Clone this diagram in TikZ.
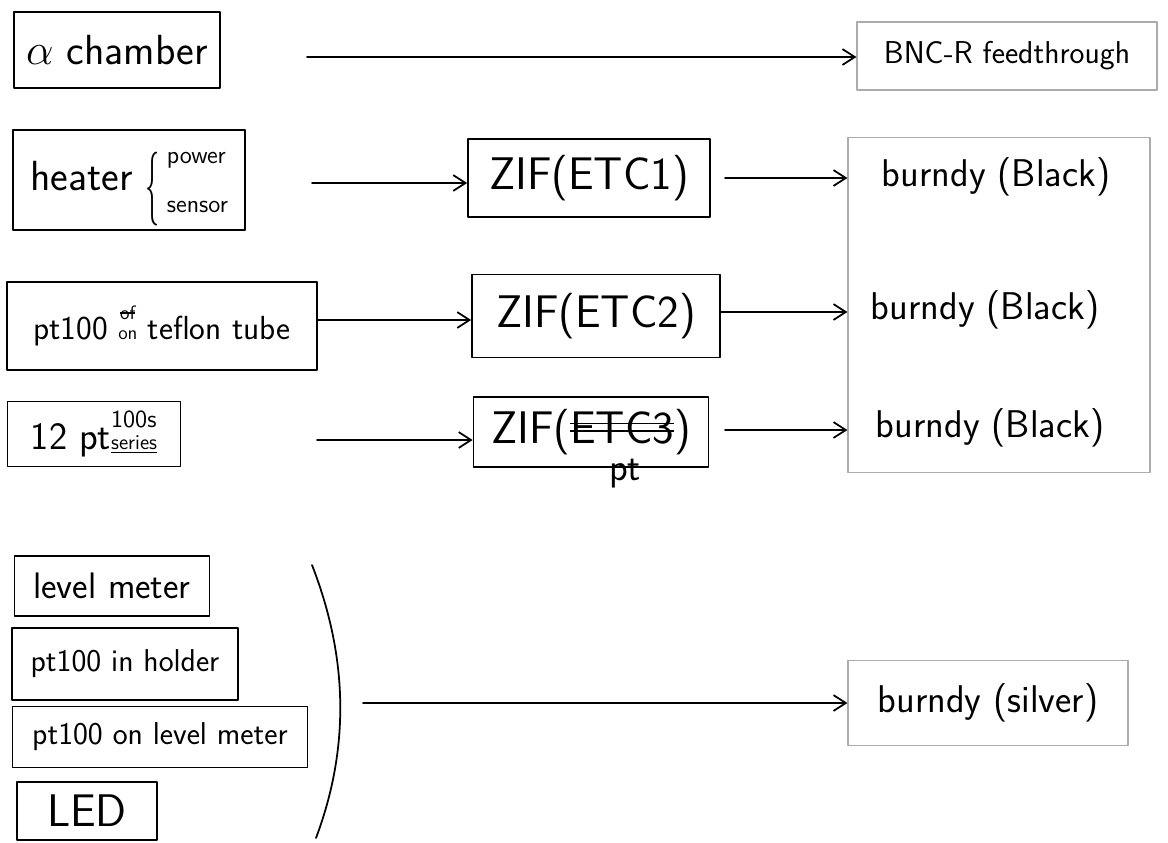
\documentclass[tikz,border=0pt]{standalone}
\usetikzlibrary{arrows.meta,calc,positioning}

\newcommand{\fsz}[1]{\fontsize{#1}{#1}\selectfont}
% crossed out text
\newcommand{\strk}[1]{\setbox0\hbox{#1}\rlap{\rule[0.32em]{\wd0}{0.9pt}}\box0}
\newcommand{\dstrk}[1]{\setbox0\hbox{#1}\rlap{\rule[0.25em]{\wd0}{0.9pt}}\rlap{\rule[0.42em]{\wd0}{0.9pt}}\box0}
% one tall brace glyph
\newcommand{\tallbrace}{\raisebox{-0.42em}{\scalebox{0.8}[2.1]{\fsz{20}\{}}\,}

\begin{document}
\begin{tikzpicture}[>={Straight Barb[length=7pt,width=9pt]}, line cap=round, line join=round, x=0.02cm, y=-0.02cm]
		
		\tikzset{
			box/.style={draw, line width=1pt, inner sep=0pt, font=\sffamily},
			pbox/.style={draw=gray!65, line width=0.7pt, inner sep=0pt, font=\sffamily},
			wire/.style={line width=1pt, ->},
		}
		
		\useasboundingbox (0,0) rectangle (1168,842);
		
		% Left column: sources
		\node[box, minimum width=4.12cm, minimum height=1.52cm, font=\sffamily\fsz{24}] (alpha) at (117,50) {$\alpha$ chamber};
		\node[box, minimum width=4.64cm, minimum height=2.0cm, font=\sffamily\fsz{24}] (heater) at (129,180)
			{heater \tallbrace\begin{tabular}{@{}l@{}}\fsz{14}power\\[4pt]\fsz{14}sensor\end{tabular}};
		\node[box, minimum width=6.2cm, minimum height=1.76cm, font=\sffamily\fsz{19}] (teflon) at (162,326)
			{pt100 \shortstack{\fsz{11}\strk{of}\\[3pt]\fsz{11}on} teflon tube};
		\node[box, minimum width=3.46cm, minimum height=1.3cm, font=\sffamily\fsz{22}] (series) at (94,434)
			{12 pt\shortstack[l]{\fsz{14}100s\\[1pt]\fsz{12}\underline{series}}};
		
		% Left column: grouped sources
		\node[box, minimum width=3.9cm, minimum height=1.2cm, font=\sffamily\fsz{21}] (level) at (112,586) {level meter};
		\node[box, minimum width=4.52cm, minimum height=1.44cm, font=\sffamily\fsz{18}] (holder) at (125,664) {pt100 in holder};
		\node[box, minimum width=5.9cm, minimum height=1.22cm, font=\sffamily\fsz{18}] (onlevel) at (160,737) {pt100 on level meter};
		\node[box, minimum width=2.8cm, minimum height=1.16cm, font=\sffamily\fsz{26}] (led) at (87,811) {LED};
		
		% bracket round the group
		\draw[line width=1pt] (312,565) .. controls (349,660) and (349,750) .. (316,838);
		
		% Middle column: ZIF boxes
		\node[box, minimum width=4.84cm, minimum height=1.56cm, font=\sffamily\fsz{26}] (zif1) at (589,178) {ZIF(ETC1)};
		\node[box, minimum width=4.96cm, minimum height=1.66cm, font=\sffamily\fsz{26}] (zif2) at (596,316) {ZIF(ETC2)};
		\node[box, minimum width=4.7cm, minimum height=1.4cm, font=\sffamily\fsz{26}] (zif3) at (591,432) {ZIF(\dstrk{ETC3})};
		\node[font=\sffamily\fsz{22}, inner sep=0pt] (zifpt) at (625,474) {pt};
		
		% Right column: feedthroughs
		\node[pbox, minimum width=6.0cm, minimum height=1.36cm, font=\sffamily\fsz{18}] (bnc) at (1007,56) {BNC-R feedthrough};
		\node[pbox, minimum width=6.04cm, minimum height=6.7cm] (burbox) at (999,305) {};
		\node[font=\sffamily\fsz{22}, inner sep=0pt] (bur1) at (996,177) {burndy (Black)};
		\node[font=\sffamily\fsz{22}, inner sep=0pt] (bur2) at (985,310) {burndy (Black)};
		\node[font=\sffamily\fsz{22}, inner sep=0pt] (bur3) at (990,428) {burndy (Black)};
		\node[pbox, minimum width=5.6cm, minimum height=1.7cm, font=\sffamily\fsz{22}] (silver) at (988,703) {burndy (silver)};
		
		% free ends of the wires
		\coordinate (a0) at (307,57);
		\coordinate (h0) at (312,183);
		\coordinate (s0) at (317,440);
		\coordinate (g0) at (363,703);
		\coordinate (z1) at (725,178);
		\coordinate (z3) at (725,430);
		
		% wires
		\draw[wire] (a0) -- (bnc.west |- a0);
		\draw[wire] (h0) -- (zif1.west |- h0);
		\draw[wire] (teflon.east |- 0,320) -- (zif2.west |- 0,320);
		\draw[wire] (s0) -- (zif3.west |- s0);
		\draw[wire] (z1) -- (burbox.west |- z1);
		\draw[wire] (zif2.east |- 0,312) -- (burbox.west |- 0,312);
		\draw[wire] (z3) -- (burbox.west |- z3);
		\draw[wire] (g0) -- (silver.west |- g0);
		
	\end{tikzpicture}
\end{document}
